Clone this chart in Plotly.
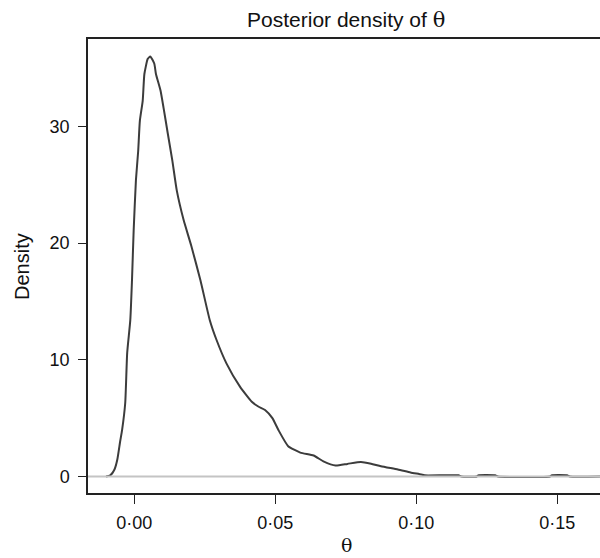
import plotly.graph_objects as go

# Posterior density of theta
theta = [-0.0100, -0.0085, -0.0070, -0.0060, -0.0050, -0.0043, -0.0032, -0.0025,
         -0.0014, -0.0008, -0.0002, 0.0006, 0.0014, 0.0020, 0.0030, 0.0036,
         0.0048, 0.0057, 0.0071, 0.0077, 0.0093, 0.0104, 0.0119, 0.0135,
         0.0151, 0.0175, 0.0202, 0.0235, 0.0268, 0.0292, 0.0327, 0.0375,
         0.0417, 0.0440, 0.0464, 0.0490, 0.0511, 0.0546, 0.0589, 0.0636,
         0.0671, 0.0714, 0.0756, 0.0804, 0.0840, 0.0875, 0.0935, 0.0980,
         0.1018, 0.1030, 0.1150, 0.1160, 0.1215, 0.1220, 0.1280, 0.1290,
         0.1475, 0.1480, 0.1535, 0.1545, 0.1660]
density = [0.0, 0.1, 0.6, 1.45, 3.0, 4.0, 6.3, 10.6,
           13.4, 16.8, 21.1, 25.4, 27.9, 30.5, 32.2, 34.5,
           35.8, 36.0, 35.4, 34.5, 33.1, 31.6, 29.4, 27.1,
           24.5, 22.0, 19.8, 16.8, 13.4, 11.7, 9.7, 7.7,
           6.4, 6.0, 5.7, 5.0, 4.0, 2.6, 2.05, 1.8,
           1.3, 0.94, 1.08, 1.25, 1.1, 0.88, 0.6, 0.35,
           0.17, 0.1, 0.1, 0.0, 0.0, 0.1, 0.1, 0.0,
           0.0, 0.1, 0.1, 0.0, 0.0]

x_ticks = [0.00, 0.05, 0.10, 0.15]
x_labels = ['0\u00b700', '0\u00b705', '0\u00b710', '0\u00b715']
y_ticks = [0, 10, 20, 30]

SERIF = 'DejaVu Serif, serif'

fig = go.Figure()

fig.add_trace(go.Scatter(
    x=theta,
    y=density,
    mode='lines',
    line=dict(color='#3c3c3c', width=2, shape='spline', smoothing=0.5),
    showlegend=False,
    hoverinfo='skip'
))

# zero reference line drawn on top of the curve
fig.add_shape(
    type='line', xref='paper', x0=0, x1=1, yref='y', y0=0, y1=0,
    line=dict(color='#c4c4c4', width=2), layer='above'
)

fig.update_layout(
    width=600,
    height=558,
    plot_bgcolor='white',
    paper_bgcolor='white',
    font=dict(family='Liberation Sans, Arial, sans-serif', size=18, color='#111111'),
    margin=dict(l=88, r=0, t=39, b=65),
    title=dict(
        text='Posterior density of <span style="font-family:%s">\u03b8</span>' % SERIF,
        xref='container', x=0.577, xanchor='center',
        yref='container', y=0.965, yanchor='middle',
        font=dict(size=21, color='#111111')
    ),
    annotations=[
        dict(text='Density', xref='paper', yref='paper', x=-0.129, y=0.5,
             xanchor='center', yanchor='middle',
             textangle=-90, showarrow=False, font=dict(size=20)),
        dict(text='\u03b8', xref='paper', yref='paper', x=0.505, y=-0.1145,
             xanchor='center', yanchor='middle',
             showarrow=False, font=dict(family=SERIF, size=19)),
    ]
)

fig.update_xaxes(
    range=[-0.0164, 0.1652],
    tickvals=x_ticks, ticktext=x_labels,
    ticks='outside', ticklen=9, tickwidth=1.3, tickcolor='#222222',
    ticklabelstandoff=4,
    showline=True, linecolor='#222222', linewidth=1.5, mirror=True,
    showgrid=False, zeroline=False
)
fig.update_yaxes(
    range=[-1.415, 37.5],
    tickvals=y_ticks,
    ticks='outside', ticklen=8, tickwidth=1.3, tickcolor='#222222',
    ticklabelstandoff=5,
    showline=True, linecolor='#222222', linewidth=1.5,
    showgrid=False, zeroline=False
)

# drop the page's default body margin so the figure sits at the window corner
fig.write_html("out.html",
               config={'displayModeBar': False},
               post_script="document.body.style.margin='0';document.body.style.padding='0';")
